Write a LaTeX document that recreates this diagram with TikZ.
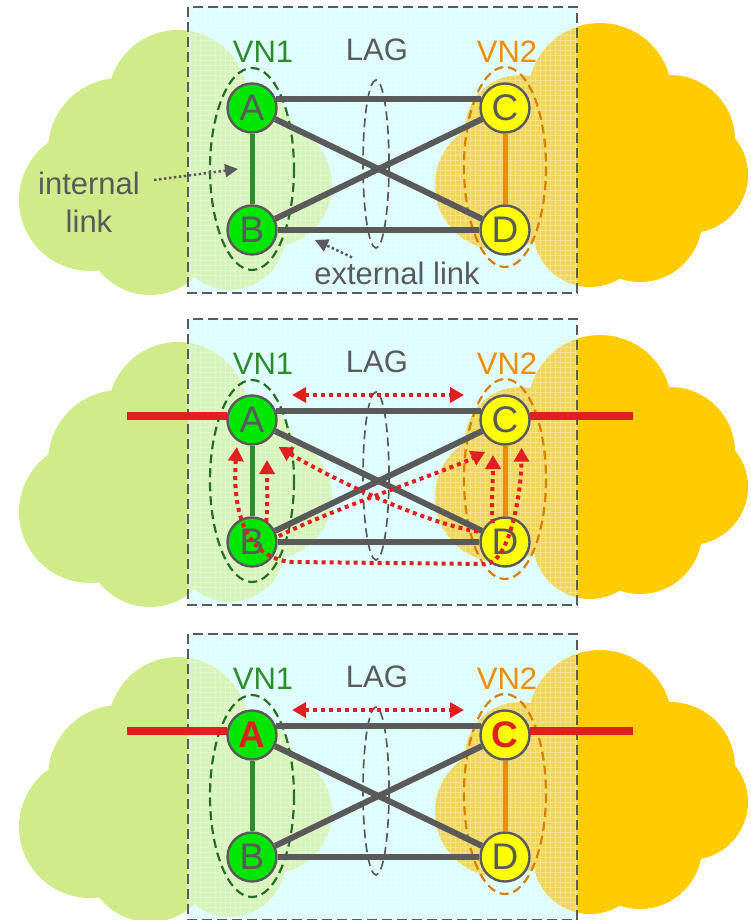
\documentclass[tikz,border=0pt]{standalone}
\usepackage{fontspec}
\setmainfont{Liberation Sans}
\usetikzlibrary{arrows.meta}
\definecolor{cloudgreen}{HTML}{CFEB8A}
\definecolor{cloudgreenin}{HTML}{D6F3BA}
\definecolor{cloudyellow}{HTML}{FFCC00}
\definecolor{cloudyellowin}{HTML}{EFD55A}
\definecolor{lagbg}{HTML}{DDFEFE}
\definecolor{linkgray}{HTML}{5A5A5A}
\definecolor{vnone}{HTML}{2E8B2E}
\definecolor{vntwo}{HTML}{F08C00}
\definecolor{flow}{HTML}{E02020}
\definecolor{nodegreen}{HTML}{00E600}
\definecolor{nodeyellow}{HTML}{FFFF00}
\newcommand{\hot}[1]{\textcolor{flow}{\bfseries #1}}
\tikzset{
  flowtip/.tip={Triangle[length=14pt, width=15pt]},
  greencloud/.style={insert path={(178,100) circle[radius=70] (120,150) circle[radius=72]
    (90,200) circle[radius=71] (150,230) circle[radius=65] (240,140) circle[radius=55]
    (270,185) circle[radius=62] (230,235) circle[radius=55] (180,190) circle[radius=80]}},
  yellowcloud/.style={insert path={(600,95) circle[radius=72] (670,140) circle[radius=65]
    (690,175) circle[radius=58] (640,220) circle[radius=62] (590,230) circle[radius=57]
    (500,185) circle[radius=65] (520,130) circle[radius=55] (610,170) circle[radius=80]}},
}

\begin{document}
\begin{tikzpicture}[x=1pt, y=-1pt,
  sw/.style={circle, draw=linkgray, line width=2.4pt, minimum size=49pt, inner sep=0pt,
    text=linkgray, font=\fontsize{37}{37}\selectfont},
  greensw/.style={sw, fill=nodegreen},
  yellowsw/.style={sw, fill=nodeyellow},
  lbl/.style={font=\fontsize{31}{38}\selectfont, inner sep=0pt},
  extlink/.style={draw=linkgray, line width=6pt},
  vnring/.style={dash pattern=on 9pt off 5pt, line width=2.2pt},
  flowline/.style={flow, line width=4pt, dash pattern=on 4pt off 4pt, shorten >=2pt, shorten <=2pt},
  pointer/.style={linkgray, line width=2.5pt, dash pattern=on 2.5pt off 2.5pt,
    -{Triangle[length=13pt, width=13pt]}},
]
\useasboundingbox (0,0) rectangle (751,920);

% three panels, same switches each time
\foreach \p/\dy/\la/\lc in {1/0/A/C, 2/312/A/C, 3/627/\hot{A}/\hot{C}} {
  \begin{scope}[shift={(0,\dy)}]
    \fill[cloudgreen, greencloud];
    \fill[cloudyellow, yellowcloud];
    \begin{scope}
      \clip (188,7) rectangle (577,293);
      \fill[lagbg] (188,7) rectangle (577,293);
      \fill[cloudgreenin, greencloud];
      \fill[cloudyellowin, yellowcloud];
      \draw[white, line width=0.6pt, opacity=0.3, step=5pt] (188,293) grid (577,7);
    \end{scope}
    \draw[linkgray, line width=2.5pt, dash pattern=on 10pt off 5pt] (188,7) rectangle (577,293);

    \draw[vnring, vnone!80!black] (252,169) ellipse[x radius=42, y radius=101];
    \draw[vnring, vntwo!90!black] (505,167) ellipse[x radius=41, y radius=100];
    \draw[vnring, linkgray, line width=1.7pt] (376,164) ellipse[x radius=13, y radius=84];

    \node[lbl, text=vnone] (vn1-\p) at (263,52) {VN1};
    \node[lbl, text=linkgray] (lag-\p) at (377,50) {LAG};
    \node[lbl, text=vntwo] (vn2-\p) at (507,52) {VN2};

    \node[greensw] (A\p) at (252,108) {\la};
    \node[greensw] (B\p) at (252,230) {B};
    \node[yellowsw] (C\p) at (505,108) {\lc};
    \node[yellowsw] (D\p) at (505,230) {D};

    \draw[extlink] (A\p.20) -- (C\p.160);
    \draw[extlink] (A\p) -- (D\p);
    \draw[extlink] (B\p) -- (C\p);
    \draw[extlink] (B\p) -- (D\p);
    \draw[vnone, line width=5pt] (A\p) -- (B\p);
    \draw[vntwo, line width=5pt] (C\p) -- (D\p);
  \end{scope}
}

% panel 1: link names
\path (A1) -- (B1) coordinate[pos=.5] (ab1);
\node[lbl, text=linkgray, align=center, anchor=north] (intl) at (89,172) {internal\\link};
\node[lbl, text=linkgray] (extl) at (397,273) {external link};
\draw[pointer] ([shift={(14,8)}]intl.north east) -- ([xshift=-14]ab1);
\draw[pointer] ([shift={(38,-4)}]extl.north west) -- ([shift={(63,10)}]B1.center);

% panels 2 and 3: outside links and LAG flow
\foreach \p in {2,3} {
  \draw[flow, line width=8pt] ([xshift=-100]A\p.172) -- (A\p.172);
  \draw[flow, line width=8pt] (C\p.8) -- ([xshift=103]C\p.8);
  \draw[flowline, {flowtip}-{flowtip}] ([shift={(38,-25)}]A\p.center) -- ([shift={(-39,-25)}]C\p.center);
}

% panel 2: paths inside the LAG
\draw[flowline, shorten <=6pt, shorten >=8pt, {flowtip}-{flowtip}] (A2.235) .. controls +(-6,80) and +(-40,-3) .. ([shift={(40,20)}]B2.center)
  -- ([shift={(-20,22)}]D2.center) .. controls +(25,0) and +(0,50) .. (C2.-50);
\draw[flowline, -{flowtip}] ([shift={(14,-18)}]B2.center) .. controls +(2,-20) and +(0,25) .. ([shift={(15,38)}]A2.center);
\draw[flowline, -{flowtip}] ([shift={(-25,-10)}]D2.center) .. controls +(-60,-10) and +(50,30) .. ([shift={(25,26)}]A2.center);
\draw[flowline, -{flowtip}] ([shift={(25,-5)}]B2.center) .. controls +(60,-30) and +(-40,20) .. ([shift={(-18,31)}]C2.center);
\draw[flowline, -{flowtip}] ([shift={(-12,-17)}]D2.center) .. controls +(-2,-20) and +(0,25) .. ([shift={(-12,33)}]C2.center);
\end{tikzpicture}
\end{document}
